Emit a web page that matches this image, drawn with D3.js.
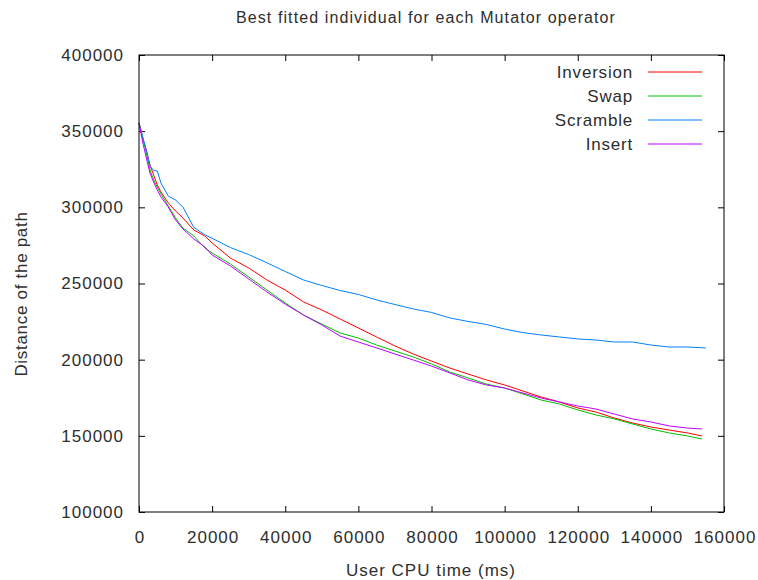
<!DOCTYPE html>
<html>
<head>
<meta charset="utf-8">
<script src="https://cdn.jsdelivr.net/npm/d3@7"></script>
<style>
  body { margin: 0; background: #fff; }
  text { font-family: "Liberation Sans", Arial, sans-serif; fill: #2e2e2e; }
</style>
</head>
<body>
<svg id="chart" width="758" height="580"></svg>
<script>
var svg = d3.select("#chart");

// data (ms, path distance)
var times = [0, 1000, 2000, 3000, 4000, 5000, 6000, 8000, 10000, 12000, 15000, 18000, 20000,
  25000, 30000, 35000, 40000, 45000, 50000, 55000, 60000, 65000, 70000, 75000, 80000,
  85000, 90000, 95000, 100000, 105000, 110000, 115000, 120000, 125000, 130000, 135000,
  140000, 145000, 150000, 154000];

var inversion = [355400, 345500, 337600, 327800, 321200, 314700, 310100, 302900, 297600, 293000,
  285100, 281200, 276600, 266700, 260200, 252300, 245700, 237900, 232600, 226700, 220800,
  214900, 209000, 203700, 199100, 194500, 190600, 186700, 183400, 179400, 175500, 172200,
  168300, 165600, 161700, 158400, 155800, 153800, 151900, 149900];

var swap = [355400, 346200, 335700, 324500, 317900, 313400, 308800, 300900, 293000, 286400,
  281200, 273300, 270000, 262800, 254300, 245700, 237200, 229300, 223400, 217500, 214200,
  209600, 205700, 201800, 197200, 191900, 188000, 184000, 181400, 177500, 173500, 170900,
  167000, 163700, 161100, 157800, 154500, 151900, 149900, 147900];

var scrambleTimes = [0, 1000, 2000, 3000, 4000, 5000, 6000, 8000, 10000, 12000, 15000, 18000, 20000,
  25000, 30000, 35000, 40000, 45000, 50000, 55000, 60000, 65000, 70000, 75000, 80000,
  85000, 90000, 95000, 100000, 105000, 110000, 115000, 120000, 125000, 130000, 135000,
  140000, 145000, 150000, 155000];

var scramble = [355400, 346200, 337600, 327100, 324200, 323900, 316000, 307400, 304800, 300200,
  286800, 282000, 279700, 273600, 269000, 263600, 257900, 252300, 248700, 245400, 242800,
  239200, 236200, 233300, 231000, 227400, 225100, 223100, 220100, 217800, 216200, 214900,
  213600, 212900, 211600, 211600, 209600, 208300, 208300, 207700];

var insert = [355400, 342900, 332400, 322500, 316600, 311400, 306800, 300200, 291700, 285800,
  279200, 274000, 268700, 261500, 253000, 244400, 236500, 229300, 222800, 215500, 211600,
  207700, 203700, 199800, 195800, 191300, 186700, 183400, 181400, 178100, 174800, 172200,
  169600, 167600, 164300, 161100, 159100, 156500, 155100, 154500];

var seriesNames = ["Inversion", "Swap", "Scramble", "Insert"];
var seriesColors = ["#ff0000", "#00c000", "#0080ff", "#c000ff"];
var xTicks = [0, 20000, 40000, 60000, 80000, 100000, 120000, 140000, 160000];
var yTicks = [100000, 150000, 200000, 250000, 300000, 350000, 400000];

var series = [
  {name: seriesNames[0], color: seriesColors[0], x: times, y: inversion},
  {name: seriesNames[1], color: seriesColors[1], x: times, y: swap},
  {name: seriesNames[2], color: seriesColors[2], x: scrambleTimes, y: scramble},
  {name: seriesNames[3], color: seriesColors[3], x: times, y: insert}
];

var mLeft = 139, mRight = 724, mTop = 55, mBottom = 512;

var x = d3.scaleLinear().domain([0, 160000]).range([mLeft, mRight]);
var y = d3.scaleLinear().domain([100000, 400000]).range([mBottom, mTop]);

// ticks, gnuplot style: inside and mirrored
var tickLen = 6;

function styleLabels(g) {
  g.selectAll("text")
    .attr("font-size", 17)
    .attr("letter-spacing", 1)
    .attr("fill", "#2e2e2e")
    .attr("font-family", "'Liberation Sans', Arial, sans-serif");
}

svg.append("g")
  .attr("transform", "translate(0," + mBottom + ")")
  .call(d3.axisBottom(x).tickValues(xTicks).tickFormat(d3.format("d")).tickSizeInner(-tickLen).tickSizeOuter(0).tickPadding(0))
  .call(function(g) { g.select(".domain").remove(); })
  .call(styleLabels)
  .call(function(g) { g.selectAll("text").attr("y", 31).attr("dy", 0).attr("dx", 0.5); });

svg.append("g")
  .attr("transform", "translate(0," + mTop + ")")
  .call(d3.axisTop(x).tickValues(xTicks).tickFormat("").tickSizeInner(-tickLen).tickSizeOuter(0))
  .call(function(g) { g.select(".domain").remove(); });

svg.append("g")
  .attr("transform", "translate(" + mLeft + ",0)")
  .call(d3.axisLeft(y).tickValues(yTicks).tickFormat(d3.format("d")).tickSizeInner(-tickLen).tickSizeOuter(0).tickPadding(15))
  .call(function(g) { g.select(".domain").remove(); })
  .call(styleLabels);

svg.append("g")
  .attr("transform", "translate(" + mRight + ",0)")
  .call(d3.axisRight(y).tickValues(yTicks).tickFormat("").tickSizeInner(-tickLen).tickSizeOuter(0))
  .call(function(g) { g.select(".domain").remove(); });

svg.selectAll(".tick line").attr("stroke", "#000");

// series lines
var line = d3.line()
  .x(function(d) { return x(d[0]); })
  .y(function(d) { return y(d[1]); });

for (var i = 0; i < series.length; i++) {
  var pts = d3.zip(series[i].x, series[i].y);
  svg.append("path")
    .datum(pts)
    .attr("d", line)
    .attr("fill", "none")
    .attr("stroke", series[i].color)
    .attr("stroke-width", 1);
}

// frame
svg.append("rect")
  .attr("x", mLeft)
  .attr("y", mTop)
  .attr("width", mRight - mLeft)
  .attr("height", mBottom - mTop)
  .attr("fill", "none")
  .attr("stroke", "#000")
  .attr("stroke-width", 1);

// legend
for (var j = 0; j < series.length; j++) {
  var ly = 72 + j * 24;
  svg.append("text")
    .attr("x", 633)
    .attr("y", ly)
    .attr("dy", "0.35em")
    .attr("text-anchor", "end")
    .attr("font-size", 17)
    .attr("letter-spacing", 0.8)
    .text(series[j].name);
  svg.append("line")
    .attr("x1", 648)
    .attr("x2", 702)
    .attr("y1", ly)
    .attr("y2", ly)
    .attr("stroke", series[j].color)
    .attr("stroke-width", 1);
}

// titles
svg.append("text")
  .attr("x", 426)
  .attr("y", 23)
  .attr("text-anchor", "middle")
  .attr("font-size", 16)
  .attr("letter-spacing", 1.1)
  .text("Best fitted individual for each Mutator operator");

svg.append("text")
  .attr("x", 431)
  .attr("y", 576)
  .attr("text-anchor", "middle")
  .attr("font-size", 17)
  .attr("letter-spacing", 1)
  .text("User CPU time (ms)");

svg.append("text")
  .attr("transform", "translate(26.5,294) rotate(-90)")
  .attr("text-anchor", "middle")
  .attr("font-size", 17)
  .attr("letter-spacing", 0.7)
  .text("Distance of the path");
</script>
</body>
</html>
